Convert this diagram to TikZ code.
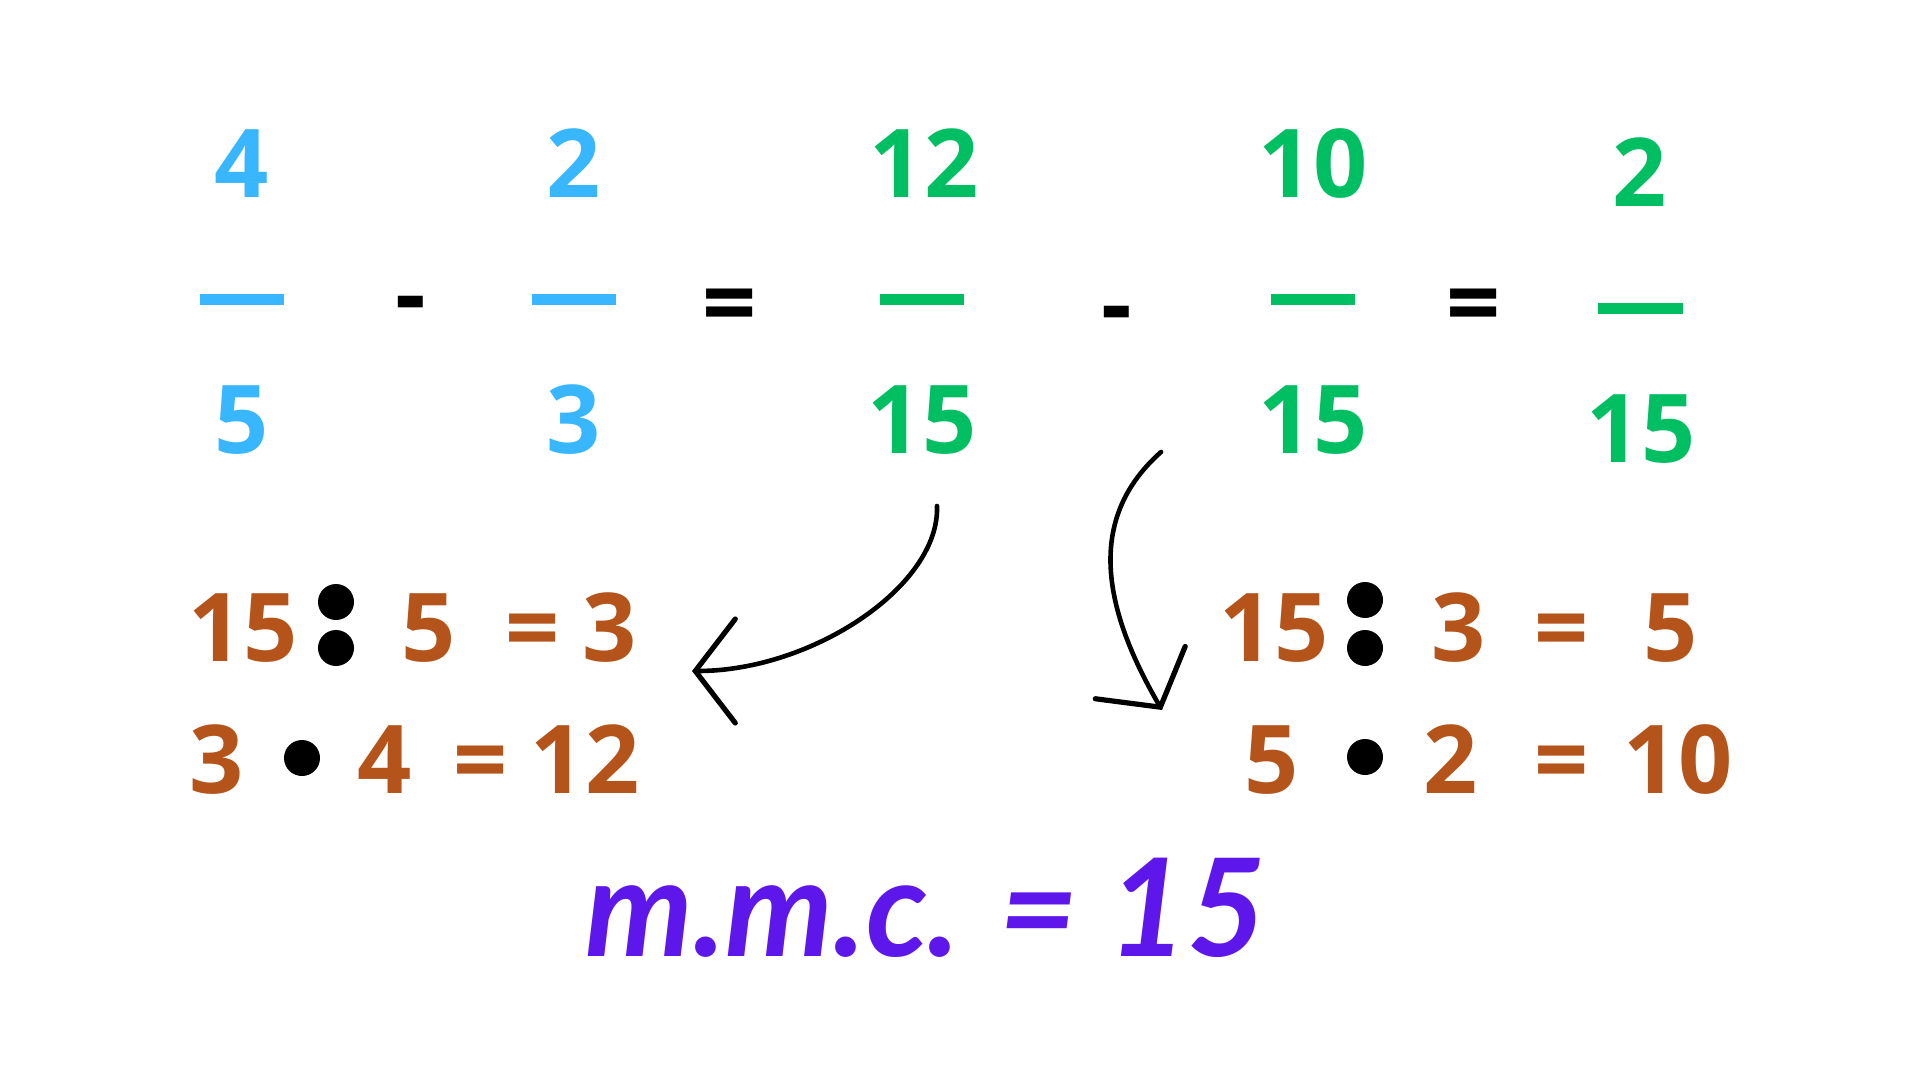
\documentclass[tikz,border=0pt]{standalone}
\usepackage{fontspec}
\usepackage{tikz}
\usetikzlibrary{arrows.meta}
\newfontfamily\numfont{Open Sans}
\newfontfamily\mmcfont{Lato}
\definecolor{fracblue}{HTML}{38B6FF}
\definecolor{fracgreen}{HTML}{00BF63}
\definecolor{stepbrown}{HTML}{B4541B}
\definecolor{mmcpurple}{HTML}{5E17EB}

\begin{document}
\begin{tikzpicture}[x=0.5pt,y=-0.5pt,
    num/.style={anchor=base,inner sep=0pt,font=\numfont\bfseries\fontsize{47.5}{50}\selectfont},
    fracbar/.style={line width=5.5pt},
    dotmark/.style={circle,fill=black,inner sep=0pt,minimum size=18pt},
    curvy/.style={line width=2.3pt,line cap=round,-{Straight Barb[length=20pt,width=52pt,line cap=round,line width=2.6pt]}}]
          \fill[white] (0,0) rectangle (1920,1080);
          \useasboundingbox (0,0) rectangle (1920,1080);

          \node[num,fracblue] (n1) at (242,198) {4};
          \node[num,fracblue] (d1) at (242,453) {5};
          \draw[fracbar,fracblue] (200,300) -- (284,300);
          \node[num] (minus1) at (411,328) {-};
          \node[num,fracblue] (n2) at (574,198) {2};
          \node[num,fracblue] (d2) at (574,453) {3};
          \draw[fracbar,fracblue] (532,300) -- (616,300);
          \node[num] (eq1) at (730,336) {=};
          \node[num,fracgreen] (n3) at (924,198) {12};
          \node[num,fracgreen] (d3) at (922,453) {15};
          \draw[fracbar,fracgreen] (880,300) -- (964,300);
          \node[num] (minus2) at (1117,337) {-};
          \node[num,fracgreen] (n4) at (1313,198) {10};
          \node[num,fracgreen] (d4) at (1313,453) {15};
          \draw[fracbar,fracgreen] (1271,300) -- (1355,300);
          \node[num] (eq2) at (1474,336) {=};
          \node[num,fracgreen] (n5) at (1640,207) {2};
          \node[num,fracgreen] (d5) at (1641,462) {15};
          \draw[fracbar,fracgreen] (1598,309) -- (1683,309);

          \node[num,stepbrown] (a15) at (243,661) {15};
          \node[dotmark] (adiv1) at (336,602) {};
          \node[dotmark] (adiv2) at (336,648) {};
          \node[num,stepbrown] (a5) at (429,661) {5};
          \node[num,stepbrown] (aeq) at (533,661) {=};
          \node[num,stepbrown] (a3) at (610,661) {3};
          \node[num,stepbrown] (b3) at (217,793) {3};
          \node[dotmark] (bdot) at (302,758) {};
          \node[num,stepbrown] (b4) at (385,793) {4};
          \node[num,stepbrown] (beq) at (481,793) {=};
          \node[num,stepbrown] (b12) at (585,793) {12};

          \node[num,stepbrown] (c15) at (1274,661) {15};
          \node[dotmark] (cdiv1) at (1365,600) {};
          \node[dotmark] (cdiv2) at (1365,648) {};
          \node[num,stepbrown] (c3) at (1459,661) {3};
          \node[num,stepbrown] (ceq) at (1562,661) {=};
          \node[num,stepbrown] (c5) at (1671,661) {5};
          \node[num,stepbrown] (e5) at (1272,793) {5};
          \node[dotmark] (edot) at (1365,757) {};
          \node[num,stepbrown] (e2) at (1451,793) {2};
          \node[num,stepbrown] (eeq) at (1562,793) {=};
          \node[num,stepbrown] (e10) at (1678,793) {10};

          \coordinate (lstart) at (937,506);
          \coordinate (ltip) at (692,671);
          \coordinate (rstart) at (1161,452);
          \coordinate (rtip) at (1162,710);
          \draw[curvy] (lstart) .. controls (940,586) and (812,671) .. (ltip);
          \draw[curvy] (rstart) .. controls (1090,515) and (1098,600) .. (rtip);

          \node[anchor=base,inner sep=0pt,mmcpurple,font=\mmcfont\bfseries\itshape\fontsize{68}{72}\selectfont] (mmc) at (926,956) {m.m.c. = 15};
         \end{tikzpicture}
\end{document}
